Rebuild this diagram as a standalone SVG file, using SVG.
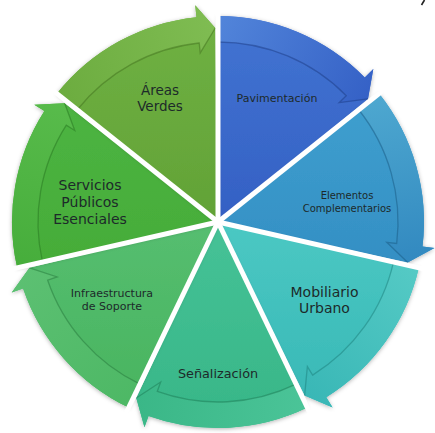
<svg xmlns="http://www.w3.org/2000/svg" width="435" height="433" viewBox="0 0 435 433">
<defs>
<filter id="sh" x="-10%" y="-10%" width="120%" height="120%">
<feDropShadow dx="0" dy="1" stdDeviation="2" flood-color="#000" flood-opacity="0.3"/>
</filter>
<linearGradient id="g0" gradientUnits="userSpaceOnUse" x1="218" y1="16" x2="368" y2="99"><stop offset="0" stop-color="#5285da"/><stop offset="1" stop-color="#3561c6"/></linearGradient>
<linearGradient id="g1" gradientUnits="userSpaceOnUse" x1="379" y1="94" x2="408" y2="262"><stop offset="0" stop-color="#4ea8d0"/><stop offset="1" stop-color="#3289c0"/></linearGradient>
<linearGradient id="g2" gradientUnits="userSpaceOnUse" x1="419" y1="268" x2="305" y2="396"><stop offset="0" stop-color="#55cac5"/><stop offset="1" stop-color="#39b7b6"/></linearGradient>
<linearGradient id="g3" gradientUnits="userSpaceOnUse" x1="307" y1="408" x2="136" y2="398"><stop offset="0" stop-color="#4bc498"/><stop offset="1" stop-color="#3ab787"/></linearGradient>
<linearGradient id="g4" gradientUnits="userSpaceOnUse" x1="129" y1="408" x2="29" y2="268"><stop offset="0" stop-color="#4db865"/><stop offset="1" stop-color="#5cc072"/></linearGradient>
<linearGradient id="g5" gradientUnits="userSpaceOnUse" x1="17" y1="268" x2="65" y2="103"><stop offset="0" stop-color="#46ad3b"/><stop offset="1" stop-color="#58bb4b"/></linearGradient>
<linearGradient id="g6" gradientUnits="userSpaceOnUse" x1="57" y1="94" x2="215" y2="28"><stop offset="0" stop-color="#6cac3f"/><stop offset="1" stop-color="#7fbc52"/></linearGradient>
<linearGradient id="b0" x1="0" y1="0" x2="0" y2="1"><stop offset="0" stop-color="#4274d2"/><stop offset="1" stop-color="#3460c4"/></linearGradient>
<linearGradient id="b1" x1="0" y1="0" x2="0" y2="1"><stop offset="0" stop-color="#3fa0cf"/><stop offset="1" stop-color="#348fc4"/></linearGradient>
<linearGradient id="b2" x1="0" y1="0" x2="0" y2="1"><stop offset="0" stop-color="#4bc8c3"/><stop offset="1" stop-color="#38b8b6"/></linearGradient>
<linearGradient id="b3" x1="0" y1="0" x2="0" y2="1"><stop offset="0" stop-color="#46c297"/><stop offset="1" stop-color="#37b687"/></linearGradient>
<linearGradient id="b4" x1="0" y1="0" x2="0" y2="1"><stop offset="0" stop-color="#55be70"/><stop offset="1" stop-color="#49b45f"/></linearGradient>
<linearGradient id="b5" x1="0" y1="0" x2="0" y2="1"><stop offset="0" stop-color="#4db442"/><stop offset="1" stop-color="#45ac38"/></linearGradient>
<linearGradient id="b6" x1="0" y1="0" x2="0" y2="1"><stop offset="0" stop-color="#70b244"/><stop offset="1" stop-color="#62a236"/></linearGradient>
</defs>
<style>
.node{filter:url(#sh)}
.lbl{font-family:"DejaVu Sans","Liberation Sans",sans-serif;fill:#1d2a2a;text-anchor:middle}
.line{fill:none;stroke-width:1.3;stroke-opacity:0.55}
.sep{stroke:#fff;stroke-width:5;stroke-linecap:butt}
</style>
<rect width="435" height="433" fill="#fff"/>

<g id="node-pavimentacion" class="node">
<path d="M218 222 L218 16 A206 206 0 0 1 364.75 77.43 L373.3 69.01 L367.96 98.95 Z" fill="url(#b0)"/>
</g>
<g id="node-elementos" class="node">
<path d="M218 222 L379.06 93.56 A206 206 0 0 1 422.52 246.6 L434.43 248.03 L407.71 262.53 Z" fill="url(#b1)"/>
</g>
<g id="node-mobiliario" class="node">
<path d="M218 222 L418.84 267.84 A206 206 0 0 1 326.29 397.22 L332.6 407.43 L304.6 395.59 Z" fill="url(#b2)"/>
</g>
<g id="node-senalizacion" class="node">
<path d="M218 222 L307.38 407.6 A206 206 0 0 1 148.52 415.93 L144.47 427.23 L136.27 397.94 Z" fill="url(#b3)"/>
</g>
<g id="node-infraestructura" class="node">
<path d="M218 222 L128.62 407.6 A206 206 0 0 1 23.06 288.58 L11.71 292.46 L29.49 267.8 Z" fill="url(#b4)"/>
</g>
<g id="node-servicios" class="node">
<path d="M218 222 L17.16 267.84 A206 206 0 0 1 44.4 111.09 L34.29 104.63 L64.64 103.17 Z" fill="url(#b5)"/>
</g>
<g id="node-areas" class="node">
<path d="M218 222 L56.94 93.56 A206 206 0 0 1 196.47 17.13 L195.21 5.19 L215.29 28.02 Z" fill="url(#b6)"/>
</g>

<g id="connectors">
<path d="M218 42 L218 16 A206 206 0 0 1 364.75 77.43 L373.3 69.01 L367.96 98.95 L339.11 102.69 L346.23 95.68 A180 180 0 0 0 218 42 Z" fill="url(#g0)"/>
<path class="line" stroke="#1f3f8a" d="M218 42 A180 180 0 0 1 346.23 95.68 L339.11 102.69 L367.96 98.95"/>
<path d="M358.73 109.77 L379.06 93.56 A206 206 0 0 1 422.52 246.6 L434.43 248.03 L407.71 262.53 L386.78 242.3 L396.7 243.49 A180 180 0 0 0 358.73 109.77 Z" fill="url(#g1)"/>
<path class="line" stroke="#1c5f88" d="M358.73 109.77 A180 180 0 0 1 396.7 243.49 L386.78 242.3 L407.71 262.53"/>
<path d="M393.49 262.05 L418.84 267.84 A206 206 0 0 1 326.29 397.22 L332.6 407.43 L304.6 395.59 L307.37 366.6 L312.63 375.11 A180 180 0 0 0 393.49 262.05 Z" fill="url(#g2)"/>
<path class="line" stroke="#1f8582" d="M393.49 262.05 A180 180 0 0 1 312.63 375.11 L307.37 366.6 L304.6 395.59"/>
<path d="M296.1 384.17 L307.38 407.6 A206 206 0 0 1 148.52 415.93 L144.47 427.23 L136.27 397.94 L160.66 382.04 L157.29 391.45 A180 180 0 0 0 296.1 384.17 Z" fill="url(#g3)"/>
<path class="line" stroke="#1f7f5a" d="M296.1 384.17 A180 180 0 0 1 157.29 391.45 L160.66 382.04 L136.27 397.94"/>
<path d="M139.9 384.17 L128.62 407.6 A206 206 0 0 1 23.06 288.58 L11.71 292.46 L29.49 267.8 L57.13 276.94 L47.67 280.18 A180 180 0 0 0 139.9 384.17 Z" fill="url(#g4)"/>
<path class="line" stroke="#2a7e40" d="M139.9 384.17 A180 180 0 0 1 47.67 280.18 L57.13 276.94 L29.49 267.8"/>
<path d="M42.51 262.05 L17.16 267.84 A206 206 0 0 1 44.4 111.09 L34.29 104.63 L64.64 103.17 L74.74 130.47 L66.31 125.09 A180 180 0 0 0 42.51 262.05 Z" fill="url(#g5)"/>
<path class="line" stroke="#2a7a22" d="M42.51 262.05 A180 180 0 0 1 66.31 125.09 L74.74 130.47 L64.64 103.17"/>
<path d="M77.27 109.77 L56.94 93.56 A206 206 0 0 1 196.47 17.13 L195.21 5.19 L215.29 28.02 L200.23 52.93 L199.18 42.99 A180 180 0 0 0 77.27 109.77 Z" fill="url(#g6)"/>
<path class="line" stroke="#44751f" d="M77.27 109.77 A180 180 0 0 1 199.18 42.99 L200.23 52.93 L215.29 28.02"/>
</g>

<g id="separators">
<line class="sep" x1="218" y1="222" x2="218" y2="0"/>
<line class="sep" x1="218" y1="222" x2="391.6" y2="83.6"/>
<line class="sep" x1="218" y1="222" x2="434.4" y2="271.4"/>
<line class="sep" x1="218" y1="222" x2="314.3" y2="422"/>
<line class="sep" x1="218" y1="222" x2="121.7" y2="422"/>
<line class="sep" x1="218" y1="222" x2="1.6" y2="271.4"/>
<line class="sep" x1="218" y1="222" x2="44.4" y2="83.6"/>
<circle cx="218" cy="222" r="4" fill="#fff"/>
</g>

<g id="labels">
<text class="lbl" x="277" y="102" font-size="11">Pavimentación</text>
<text class="lbl" x="347" y="199" font-size="10">Elementos</text>
<text class="lbl" x="347" y="212" font-size="10">Complementarios</text>
<text class="lbl" x="324.5" y="297" font-size="14">Mobiliario</text>
<text class="lbl" x="324.5" y="313" font-size="14">Urbano</text>
<text class="lbl" x="218" y="378" font-size="12.8">Señalización</text>
<text class="lbl" x="112" y="297" font-size="11">Infraestructura</text>
<text class="lbl" x="112" y="310" font-size="11">de Soporte</text>
<text class="lbl" x="90" y="190" font-size="14">Servicios</text>
<text class="lbl" x="90" y="207" font-size="14">Públicos</text>
<text class="lbl" x="90" y="224" font-size="14">Esenciales</text>
<text class="lbl" x="160" y="95" font-size="13.5">Áreas</text>
<text class="lbl" x="160" y="111" font-size="13.5">Verdes</text>
</g>
<line x1="424.5" y1="0" x2="421.5" y2="5" stroke="#222" stroke-width="1.6"/>
</svg>
